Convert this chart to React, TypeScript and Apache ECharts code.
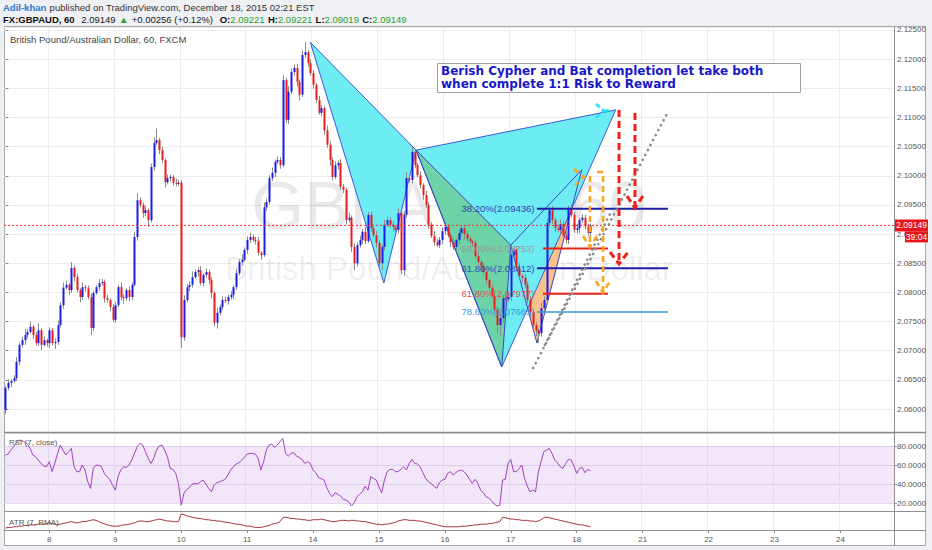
import React, { useEffect, useRef } from 'react';
import * as echarts from 'echarts';

// ---------- time axis ----------
const dayLabels = ['8', '9', '10', '11', '14', '15', '16', '17', '18', '21', '22', '23', '24'];
const FIRST_DAY_SLOT = 16;
const BARS_PER_DAY = 24;
const SLOT_COUNT = 324;

// ---------- GBPAUD 60-minute candles (prices in 1e-4 units) ----------
const firstOpen = 20598;
const closes = [
  20636, 20645, 20648, 20653, 20681, 20710, 20718, 20727, 20732, 20741,
  20727, 20713, 20735, 20710, 20718, 20713, 20735, 20713, 20715, 20744,
  20778, 20808, 20813, 20804, 20842, 20826, 20804, 20792, 20809, 20807,
  20792, 20739, 20799, 20809, 20816, 20818, 20790, 20787, 20775, 20753,
  20778, 20809, 20792, 20790, 20804, 20792, 20813, 20895, 20958, 20950,
  20936, 20941, 20924, 21015, 21056, 21061, 21044, 21027, 20989, 20996,
  20998, 20988, 20986, 20988, 20723, 20787, 20809, 20813, 20826, 20835,
  20838, 20816, 20830, 20835, 20821, 20799, 20748, 20765, 20775, 20787,
  20785, 20792, 20796, 20809, 20833, 20852, 20856, 20873, 20890, 20895,
  20890, 20888, 20868, 20864, 20946, 20955, 20996, 21005, 21024, 21027,
  21018, 21164, 21096, 21144, 21178, 21185, 21161, 21139, 21207, 21212,
  21193, 21176, 21156, 21130, 21108, 21116, 21078, 21053, 21027, 20998,
  21018, 21022, 20981, 20976, 20924, 20928, 20878, 20850, 20881, 20890,
  20904, 20888, 20933, 20910, 20898, 20885, 20850, 20878, 20916, 20924,
  20916, 20912, 20907, 20936, 20838, 20933, 20996, 20993, 21041, 21018,
  21001, 20984, 20967, 20950, 20916, 20897, 20886, 20881, 20890, 20905,
  20912, 20898, 20886, 20878, 20890, 20902, 20910, 20900, 20892, 20888,
  20885, 20862, 20852, 20845, 20835, 20821, 20808, 20794, 20770, 20744,
  20756, 20790, 20788, 20792, 20864, 20873, 20842, 20828, 20825, 20813,
  20787, 20766, 20744, 20735, 20730, 20773, 20787, 20919, 20941, 20924,
  20910, 20907, 20917, 20898, 20890, 20945, 20933, 20907, 20910, 20924,
  20928, 20914, 20902, 20915,
];
const upperWick = [
  4, 6, 3, 5, 8, 4, 6, 10, 5, 9,
  3, 5, 12, 4, 6, 3, 5, 4, 6, 8,
  5, 9, 7, 3, 10, 4, 6, 3, 8, 4,
  5, 6, 4, 3, 7, 5, 4, 6, 3, 5,
  6, 4, 8, 5, 3, 6, 4, 9, 12, 5,
  4, 7, 3, 6, 10, 20, 4, 5, 3, 6,
  4, 3, 7, 5, 4, 8, 5, 6, 10, 4,
  5, 7, 3, 6, 4, 5, 3, 8, 4, 6,
  5, 4, 6, 3, 7, 5, 9, 4, 6, 8,
  4, 5, 7, 3, 8, 6, 5, 9, 4, 6,
  5, 8, 4, 10, 6, 5, 7, 4, 8, 17,
  4, 6, 5, 3, 7, 5, 4, 8, 6, 5,
  7, 4, 6, 5, 3, 8, 4, 6, 5, 7,
  4, 8, 5, 6, 3, 7, 5, 4, 9, 6,
  5, 7, 4, 8, 5, 6, 10, 4, 8, 5,
  4, 6, 3, 7, 5, 4, 8, 6, 5, 7,
  4, 6, 5, 8, 3, 7, 5, 4, 6, 5,
  3, 5, 7, 4, 6, 5, 3, 6, 4, 5,
  8, 6, 5, 7, 4, 6, 5, 8, 4, 6,
  5, 7, 4, 6, 3, 9, 6, 8, 5, 7,
  4, 6, 8, 5, 7, 4, 6, 5, 8, 4,
  6, 5, 4, 3,
];
const lowerWick = [
  7, 4, 7, 3, 5, 6, 4, 8, 5, 3,
  7, 4, 5, 9, 3, 6, 8, 4, 10, 5,
  4, 6, 3, 8, 5, 7, 4, 9, 5, 6,
  4, 12, 5, 3, 6, 4, 8, 5, 7, 4,
  5, 3, 6, 9, 4, 7, 5, 3, 6, 4,
  8, 5, 12, 4, 6, 3, 7, 5, 9, 4,
  6, 5, 4, 3, 18, 6, 4, 7, 5, 3,
  8, 4, 6, 5, 7, 9, 6, 10, 4, 5,
  3, 6, 4, 8, 5, 4, 6, 3, 7, 5,
  4, 6, 5, 8, 3, 6, 4, 5, 7, 4,
  6, 3, 5, 7, 4, 6, 8, 10, 4, 5,
  6, 4, 7, 5, 3, 6, 8, 5, 10, 6,
  4, 7, 5, 6, 8, 4, 9, 12, 6, 4,
  7, 5, 3, 6, 4, 8, 5, 12, 6, 4,
  5, 8, 4, 6, 7, 10, 5, 4, 6, 5,
  4, 6, 8, 5, 7, 4, 6, 3, 5, 7,
  6, 4, 8, 5, 6, 7, 4, 9, 5, 6,
  7, 4, 6, 8, 5, 6, 7, 4, 5, 14,
  18, 8, 5, 4, 7, 5, 6, 4, 8, 5,
  6, 7, 5, 10, 17, 6, 8, 4, 5, 7,
  6, 4, 8, 5, 6, 7, 4, 5, 6, 8,
  4, 6, 5, 7,
];

// ---------- RSI (7, close) ----------
const rsiValues = [
  70.5, 71.5, 75.7, 79.3, 83.5, 86.3, 85.6, 84.2, 82, 77.5,
  70.5, 68.7, 65.2, 61.7, 58.9, 58.2, 63.5, 53, 61.7, 72.2,
  81, 75.7, 70.5, 74, 77.5, 58.2, 53, 53, 60, 54.7,
  42.4, 35.4, 56.4, 60, 59.6, 58.2, 51.2, 47.7, 44.9, 38.9,
  33.6, 47.7, 54.7, 58.2, 57.5, 60, 65.2, 72.2, 79.3, 82.8,
  81, 74, 67, 61.7, 67, 75.7, 80, 81, 75.7, 68.7,
  56.4, 55.4, 51.2, 40.6, 17.8, 30.1, 34.3, 36.4, 40, 40.6,
  40, 42.4, 44.2, 40, 35.4, 31.9, 38.9, 41.3, 42.4, 43.5,
  44.9, 49.4, 54.7, 58.2, 61, 62.4, 65.2, 68, 71.5, 72.2,
  72.2, 71.5, 67, 54.7, 63.5, 75.7, 81, 82, 78.5, 81,
  84.5, 88, 72.2, 69.4, 72.2, 72.9, 69.4, 68, 65.9, 61.7,
  63.5, 61.7, 54.7, 51.9, 47, 45.6, 44.2, 36.4, 30.1, 26.6,
  30.8, 29.4, 27.3, 23.8, 23.1, 21.3, 16.8, 20.3, 26.6, 29.4,
  31.9, 37.8, 33.6, 47.7, 46, 44.2, 37.1, 30.8, 44.2, 53,
  55.4, 55.4, 53, 53, 55.4, 58.2, 54.7, 61.7, 65.9, 61.7,
  61, 58.2, 51.9, 46, 42.4, 40.6, 37.8, 35.4, 41.3, 44.2,
  44.9, 51.2, 53, 49.4, 51.9, 54, 54.7, 53, 49.4, 44.9,
  40.6, 44.9, 40.6, 33.6, 30.8, 26.6, 25.2, 22.4, 18.9, 16.8,
  17.8, 44.2, 44.9, 61.7, 65.9, 53, 53, 56.4, 60, 46,
  37.8, 31.9, 33.6, 31.9, 51.9, 63.5, 74, 75.7, 77.5, 72.2,
  65.2, 62.4, 58.2, 56.4, 61.7, 65.9, 65.2, 58.9, 51.2, 56.4,
  57.5, 51.9, 55.4, 54,
];

// ---------- ATR (7, RMA) in pips ----------
const atrPips = [
  12, 13, 13, 14, 14, 15, 15, 16, 16, 17, 17, 17, 18, 18,
  18, 19, 20, 19, 18, 17,
  18, 19, 20, 21, 22, 21,
  20, 21, 22, 22, 23,
  24, 25, 24, 22, 20,
  19, 17, 16, 15, 15, 15,
  16, 17, 17, 18, 19,
  20, 22, 23, 23, 22, 22,
  23, 24, 25, 26, 25, 24,
  23, 23, 22, 22, 22,
  34,
  33, 31, 30, 29, 28, 27,
  27, 26, 25, 25, 24, 24,
  23, 23, 22, 21, 21, 20,
  19, 18, 18, 17, 16, 15,
  15, 14, 13, 13, 13, 14, 15,
  16, 18, 19, 20, 22,
  28,
  29, 28, 27, 27, 26, 26,
  25, 25, 24, 24, 25, 25,
  25, 26, 25, 24, 23, 22,
  22, 23, 24, 24, 24, 23,
  24, 24, 23, 23, 22, 22,
  21, 20, 19, 18, 18, 17,
  18, 18, 19, 20, 21, 23,
  24, 25, 25, 24, 24, 24,
  23, 23, 22, 21, 20, 19,
  18, 17, 16, 15, 14, 14,
  14, 14, 14, 14, 15, 15,
  15, 16, 16, 17, 17, 18,
  18, 18, 19, 19, 20, 21,
  22, 29, 28, 27,
  26, 26, 25, 25, 24, 24,
  24, 23, 23, 22, 23, 25,
  28, 29, 28, 27, 26, 25,
  24, 23, 22, 21, 20, 19,
  18, 17, 17, 16, 15, 14,
];

const lastPrice = 2.09149;
const lastPriceText = '2.09149';
const countdownText = '39:04';

// ---------- drawings: [bar index, price] ----------
const batPivots = [[111, 2.1229], [137.8, 2.0816], [149.5, 2.1044], [180.7, 2.0672], [222.2, 2.1113]];
const cypherPivots = [[149.5, 2.1044], [180.7, 2.0672], [184.0, 2.0881], [209.8, 2.101], [193.5, 2.0713]];

const fibLabels = ['38.20%(2.09436)', '50.00%(2.08753)', '61.80%(2.08412)', '61.80%(2.07977)', '78.60%(2.07665)'];
const fibPrices = [2.09436, 2.08753, 2.08412, 2.07977, 2.07665];
const fibStart = [193.5, 195.7, 193.5, 195.7, 193.5];
const fibEnd = [241.2, 219.4, 241.2, 219.4, 241.2];
const fibLabelEnd = 192.6;

const cyanArrow = [
  [[215.0, 2.11231], [217.9, 2.11111], [215.0, 2.10991]],
  [[217.9, 2.11111], [220.8, 2.11128]],
];
const orangeArrows = [
  [[212.8, 2.09996], [212.8, 2.08796]],
  [[210.3, 2.08967], [212.8, 2.08779], [215.4, 2.08967]],
  [[207.0, 2.10116], [210.6, 2.09979], [207.4, 2.09842]],
  [[215.4, 2.10065], [217.6, 2.10065], [217.6, 2.08007]],
  [[215.0, 2.08195], [217.6, 2.0799], [220.1, 2.08195]],
];
const redArrows = [
  [[223.4, 2.11128], [223.4, 2.08521]],
  [[220.1, 2.08693], [223.4, 2.08487], [226.7, 2.08693]],
  [[229.2, 2.11077], [229.2, 2.09465]],
  [[226.3, 2.09653], [229.2, 2.09447], [232.1, 2.09653]],
];
const dottedLines = [
  [[192.1, 2.06703], [241.2, 2.11094]],
  [[196.4, 2.07098], [220.8, 2.09413]],
];

// ---------- styles ----------
const FONT = 'Liberation Sans, Arial, sans-serif';
const fibColors = ['#1e1ea8', '#e8231e', '#1e1ea8', '#e8231e', '#3a9ad9'];
const fibLabelColors = ['#3838b0', '#9a9a9a', '#3848b8', '#e25050', '#3a9ad9'];

function isDaySlot(idx: number) {
  const k = idx - FIRST_DAY_SLOT;
  return k >= 0 && k % BARS_PER_DAY === 0;
}
const slotLabels = Array.from({ length: SLOT_COUNT }, (_, s) => {
  const k = s - FIRST_DAY_SLOT;
  return k >= 0 && k % BARS_PER_DAY === 0 ? dayLabels[k / BARS_PER_DAY] ?? '' : '';
});

const candles = closes.map((c, i) => {
  const o = i === 0 ? firstOpen : closes[i - 1];
  const hi = Math.max(o, c) + upperWick[i];
  const lo = Math.min(o, c) - lowerWick[i];
  return [i, o / 10000, c / 10000, lo / 10000, hi / 10000];
});

function catAxis(gridIndex: number, showLabels: boolean) {
  return {
    type: 'category',
    gridIndex,
    data: slotLabels,
    boundaryGap: true,
    axisLine: { show: showLabels, lineStyle: { color: '#8c8c8c' } },
    axisTick: { show: showLabels, interval: (i: number) => isDaySlot(i), alignWithLabel: true, length: 3, lineStyle: { color: '#8c8c8c' } },
    axisLabel: { show: showLabels, interval: (i: number) => isDaySlot(i), fontSize: 8, color: '#555', margin: 5, fontFamily: FONT },
    splitLine: { show: true, interval: (i: number) => isDaySlot(i), lineStyle: { color: '#ececec' } },
  };
}

function buildOption() {
  return {
    animation: false,
    backgroundColor: 'transparent',
    textStyle: { fontFamily: FONT },
    grid: [
      { left: 4, top: 27, width: 890, height: 405 },
      { left: 4, top: 433, width: 890, height: 78 },
      { left: 4, top: 512, width: 890, height: 18 },
    ],
    xAxis: [
      catAxis(0, false),
      { type: 'value', gridIndex: 0, min: -0.5, max: SLOT_COUNT - 0.5, show: false },
      catAxis(1, false),
      catAxis(2, true),
    ],
    yAxis: [
      {
        type: 'value', gridIndex: 0, position: 'right', min: 2.05606, max: 2.12551, splitNumber: 14,
        axisLine: { show: false },
        axisTick: { show: true, length: 3, lineStyle: { color: '#8c8c8c' } },
        axisLabel: { fontSize: 8, color: '#555', margin: 3, showMinLabel: false, showMaxLabel: false, formatter: (v: number) => v.toFixed(5) },
        splitLine: { lineStyle: { color: '#ececec' } },
      },
      {
        type: 'value', gridIndex: 1, position: 'right', min: 11.6, max: 93.7, splitNumber: 4,
        axisLine: { show: false },
        axisTick: { show: true, length: 3, lineStyle: { color: '#8c8c8c' } },
        axisLabel: { fontSize: 8, color: '#555', margin: 3, showMinLabel: false, showMaxLabel: false, formatter: (v: number) => v.toFixed(4) },
        splitLine: { lineStyle: { color: '#e2d9ea' } },
      },
      { type: 'value', gridIndex: 2, min: 9, max: 37, show: false },
    ],
    series: [
      {
        type: 'custom', name: 'patterns', xAxisIndex: 1, yAxisIndex: 0, z: 1, silent: true, clip: false,
        data: [[0, 2.09]],
        renderItem: (_p: any, api: any) => {
          const c = (p: number[]) => api.coord(p);
          const tri = (pts: number[][], idx: number[]) => idx.map((k) => c(pts[k]));
          const seg = (pts: number[][], a: number, b: number, color: string) => ({
            type: 'line', shape: { x1: c(pts[a])[0], y1: c(pts[a])[1], x2: c(pts[b])[0], y2: c(pts[b])[1] },
            style: { stroke: color, lineWidth: 1 },
          });
          const pairs = [[0, 1], [1, 2], [2, 3], [3, 4], [0, 2], [2, 4]];
          return {
            type: 'group',
            children: [
              { type: 'polygon', shape: { points: tri(cypherPivots, [2, 3, 4]) }, style: { fill: '#f8c28c' } },
              { type: 'polygon', shape: { points: tri(batPivots, [0, 1, 2]) }, style: { fill: '#6decf4' } },
              { type: 'polygon', shape: { points: tri(batPivots, [2, 3, 4]) }, style: { fill: '#6decf4' } },
              { type: 'polygon', shape: { points: tri(cypherPivots, [0, 1, 2]) }, style: { fill: '#6dd3a6' } },
              ...pairs.map(([a, b]) => seg(batPivots, a, b, '#3d5bd6')),
              ...pairs.map(([a, b]) => seg(cypherPivots, a, b, '#3f45c0')),
            ],
          };
        },
      },
      {
        type: 'line', name: 'lastPrice', xAxisIndex: 1, yAxisIndex: 0, z: 4, silent: true, symbol: 'none',
        data: [[-0.5, lastPrice], [SLOT_COUNT - 0.5, lastPrice]],
        lineStyle: { color: '#ff2a2a', width: 1, type: [2, 2] },
      },
      {
        type: 'custom', name: 'GBPAUD', xAxisIndex: 0, yAxisIndex: 0, z: 3, silent: true,
        data: candles,
        encode: { x: 0, y: [1, 2, 3, 4] },
        renderItem: (_p: any, api: any) => {
          const i = api.value(0);
          const o = api.value(1), cl = api.value(2), lo = api.value(3), hi = api.value(4);
          const pO = api.coord([i, o]);
          const pC = api.coord([i, cl]);
          const pL = api.coord([i, lo]);
          const pH = api.coord([i, hi]);
          const x = Math.round(pO[0]);
          const top = Math.min(pO[1], pC[1]);
          const h = Math.max(1, Math.abs(pO[1] - pC[1]));
          return {
            type: 'group',
            children: [
              { type: 'line', shape: { x1: x + 0.5, y1: pH[1], x2: x + 0.5, y2: pL[1] }, style: { stroke: '#8c8c8c', lineWidth: 1 } },
              { type: 'rect', shape: { x: x - 0.5, y: top, width: 2, height: h }, style: { fill: cl >= o ? '#1c1ce8' : '#ec1b1b' } },
            ],
          };
        },
      },
      {
        type: 'custom', name: 'drawings', xAxisIndex: 1, yAxisIndex: 0, z: 5, silent: true, clip: false,
        data: [[0, 2.09]],
        renderItem: (_p: any, api: any) => {
          const c = (p: number[]) => api.coord(p);
          const poly = (pts: number[][], style: any) => ({ type: 'polyline', shape: { points: pts.map(c) }, style: { fill: null, ...style } });
          const children: any[] = [];
          fibPrices.forEach((p, k) => {
            const a = c([fibStart[k], p]);
            const b = c([fibEnd[k], p]);
            children.push({ type: 'line', shape: { x1: a[0], y1: a[1], x2: b[0], y2: b[1] }, style: { stroke: fibColors[k], lineWidth: k === 4 ? 1.5 : 2 } });
            const t = c([fibLabelEnd, p]);
            children.push({
              type: 'text', x: t[0], y: t[1],
              style: { text: fibLabels[k], fill: fibLabelColors[k], fontSize: 9.5, fontFamily: FONT, align: 'right', verticalAlign: 'middle' },
            });
          });
          dottedLines.forEach((l) => children.push(poly(l, { stroke: '#8a8a8a', lineWidth: 2.6, lineDash: [0.1, 5.5], lineCap: 'round' })));
          cyanArrow.forEach((l) => children.push(poly(l, { stroke: '#22e2f0', lineWidth: 2.5, lineDash: [5, 3] })));
          orangeArrows.forEach((l) => children.push(poly(l, { stroke: '#f5a623', lineWidth: 2.5, lineDash: [6, 4] })));
          redArrows.forEach((l) => children.push(poly(l, { stroke: '#f0201c', lineWidth: 3, lineDash: [7, 4] })));
          return { type: 'group', children };
        },
      },
      {
        type: 'line', name: 'RSI', xAxisIndex: 2, yAxisIndex: 1, data: rsiValues, symbol: 'none', silent: true,
        lineStyle: { color: '#a040c0', width: 1 },
        markArea: { silent: true, data: [[{ yAxis: 20 }, { yAxis: 80 }]], itemStyle: { color: 'rgba(205,170,235,0.28)' } },
      },
      {
        type: 'line', name: 'ATR', xAxisIndex: 3, yAxisIndex: 2, data: atrPips, symbol: 'none', silent: true,
        lineStyle: { color: '#a3343e', width: 1 },
      },
    ],
  };
}

function buildGraphics(yLast: number) {
  const hl = (x1: number, y: number, x2: number, color = '#909090', w = 1) => ({
    type: 'line', silent: true, z: 20, shape: { x1, y1: y, x2, y2: y }, style: { stroke: color, lineWidth: w },
  });
  return [
    // header
    {
      type: 'text', x: 3, y: 1, silent: true,
      style: {
        text: '{a|Adil-khan} {b|published on TradingView.com, December 18, 2015 02:21 EST}',
        rich: {
          a: { fill: '#2a79d0', fontSize: 9.5, fontFamily: FONT, fontWeight: 'bold' },
          b: { fill: '#333', fontSize: 9.5, fontFamily: FONT },
        },
      },
    },
    {
      type: 'text', x: 3, y: 13, silent: true,
      style: {
        text: '{k|FX:GBPAUD, 60}  {v|2.09149} {g|▲} {v|+0.00256 (+0.12%)}  {k|O:}{g|2.09221} {k|H:}{g|2.09221} {k|L:}{g|2.09019} {k|C:}{g|2.09149}',
        rich: {
          k: { fill: '#111', fontSize: 9.5, fontFamily: FONT, fontWeight: 'bold' },
          v: { fill: '#222', fontSize: 9.5, fontFamily: FONT },
          g: { fill: '#2ea02e', fontSize: 9.5, fontFamily: FONT },
        },
      },
    },
    // watermark
    {
      type: 'text', x: 449, y: 205, silent: true, z: 0,
      style: { text: 'GBPAUD, 60', fill: 'rgba(0,0,0,0.085)', fontSize: 68, fontFamily: FONT, align: 'center', verticalAlign: 'middle' },
    },
    {
      type: 'text', x: 449, y: 268, silent: true, z: 0,
      style: { text: 'British Pound/Australian Dollar', fill: 'rgba(0,0,0,0.07)', fontSize: 33, fontFamily: FONT, align: 'center', verticalAlign: 'middle' },
    },
    // legend
    {
      type: 'text', x: 10, y: 34, silent: true, z: 20,
      style: { text: 'British Pound/Australian Dollar, 60, FXCM', fill: '#444', fontSize: 9.5, fontFamily: FONT },
    },
    { type: 'text', x: 9, y: 438, silent: true, z: 20, style: { text: 'RSI (7, close)', fill: '#555', fontSize: 8, fontFamily: FONT } },
    { type: 'text', x: 9, y: 518, silent: true, z: 20, style: { text: 'ATR (7, RMA)', fill: '#555', fontSize: 8, fontFamily: FONT } },
    // annotation box
    { type: 'rect', silent: true, z: 20, shape: { x: 437.5, y: 63.5, width: 363, height: 29 }, style: { fill: '#fff', stroke: '#a0a0a0', lineWidth: 1 } },
    {
      type: 'text', x: 441, y: 65, silent: true, z: 21,
      style: {
        text: 'Berish Cypher and Bat completion let take both\nwhen complete 1:1 Risk to Reward',
        fill: '#1717cc', fontSize: 12, fontWeight: 'bold', fontFamily: 'DejaVu Sans, Verdana, sans-serif', lineHeight: 12.5,
      },
    },
    // frame
    { type: 'line', silent: true, z: 20, shape: { x1: 894.5, y1: 26, x2: 894.5, y2: 546 }, style: { stroke: '#909090', lineWidth: 1 } },
    hl(4, 432.5, 926, '#8a8a8a', 1.5),
    hl(4, 511.5, 926),
    hl(4, 530.5, 926),
    // last price tag + countdown
    { type: 'rect', silent: true, z: 22, shape: { x: 895, y: yLast - 6, width: 33, height: 12 }, style: { fill: '#e8141c' } },
    {
      type: 'text', x: 911.5, y: yLast, silent: true, z: 23,
      style: { text: lastPriceText, fill: '#fff', fontSize: 8.5, fontFamily: FONT, align: 'center', verticalAlign: 'middle' },
    },
    { type: 'rect', silent: true, z: 22, shape: { x: 905, y: yLast + 6, width: 23, height: 11 }, style: { fill: '#e8141c' } },
    {
      type: 'text', x: 916.5, y: yLast + 11.5, silent: true, z: 23,
      style: { text: countdownText, fill: '#fff', fontSize: 8.5, fontFamily: FONT, align: 'center', verticalAlign: 'middle' },
    },
  ];
}

export default function App() {
  const ref = useRef<HTMLDivElement>(null);
  useEffect(() => {
    if (!ref.current) return;
    const chart = echarts.init(ref.current, undefined, { renderer: 'svg' });
    chart.setOption(buildOption() as any);
    const yLast = chart.convertToPixel({ yAxisIndex: 0 } as any, lastPrice) as unknown as number;
    chart.setOption({ graphic: buildGraphics(yLast) } as any);
    return () => chart.dispose();
  }, []);
  return (
    <div style={{ position: 'absolute', left: 0, top: 0, width: 932, height: 550, background: '#eef0f3' }}>
      <div style={{ position: 'absolute', left: 4, top: 26, width: 922, height: 520, background: '#fff', border: '1px solid #a9a9a9', boxSizing: 'border-box' }} />
      <div ref={ref} style={{ position: 'absolute', left: 0, top: 0, width: 932, height: 550 }} />
    </div>
  );
}
